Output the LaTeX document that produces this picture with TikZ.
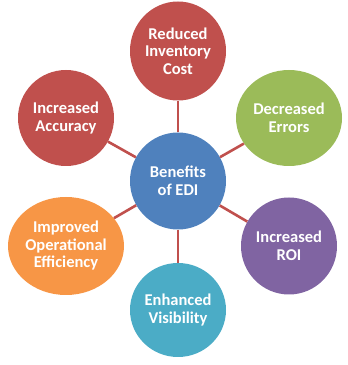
\documentclass[tikz,border=0pt]{standalone}
\usepackage{fontspec}
\setmainfont{Carlito}[BoldFont={Carlito Bold}]
\usetikzlibrary{shapes.geometric}
\definecolor{cred}{HTML}{C0504D}
\definecolor{cgreen}{HTML}{9BBB59}
\definecolor{cblue}{HTML}{4F81BD}
\definecolor{corange}{HTML}{F79646}
\definecolor{cpurple}{HTML}{8064A2}
\definecolor{caqua}{HTML}{4BACC6}
\tikzset{
  bubble/.style={ellipse, inner sep=0pt, text=white, align=center,
    font=\fontsize{16.5}{17.5}\selectfont\bfseries},
  link/.style={draw=cred, line width=2.6pt}
}
\begin{document}
\begin{tikzpicture}[x=1pt,y=1pt]
\useasboundingbox (0,0) rectangle (348,365);
\node[bubble, fill=cblue, minimum width=96pt, minimum height=97pt] (c) at (178,184) {Benefits\\of EDI};
\node[bubble, fill=cred, minimum width=96pt, minimum height=99pt] (t) at (178,314) {Reduced\\Inventory\\Cost};
\node[bubble, fill=cred, minimum width=96pt, minimum height=96pt] (tl) at (66,247) {Increased\\Accuracy};
\node[bubble, fill=cgreen, minimum width=106pt, minimum height=96pt] (tr) at (289,247) {Decreased\\Errors};
\node[bubble, fill=corange, minimum width=116pt, minimum height=98pt] (bl) at (66,119) {Improved\\Operational\\Efficiency};
\node[bubble, fill=cpurple, minimum width=96pt, minimum height=97pt] (br) at (289,119) {Increased\\ROI};
\node[bubble, fill=caqua, minimum width=96pt, minimum height=94pt] (b) at (178,55) {Enhanced\\Visibility};
\draw[link] (c) -- (t);
\draw[link] (c) -- (tl);
\draw[link] (c) -- (tr);
\draw[link] (c) -- (bl);
\draw[link] (c) -- (br);
\draw[link] (c) -- (b);
\end{tikzpicture}
\end{document}
